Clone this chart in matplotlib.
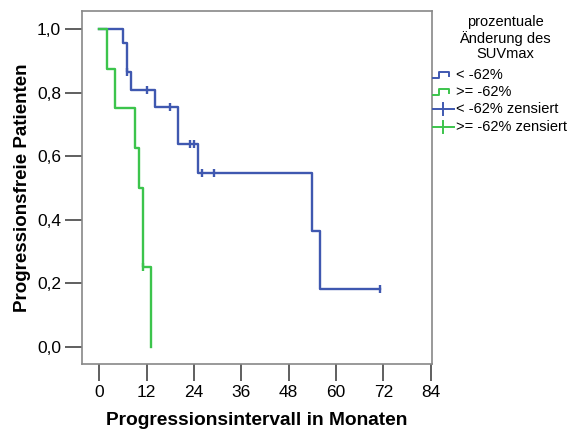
import matplotlib
matplotlib.use("Agg")
import matplotlib.pyplot as plt
from matplotlib.lines import Line2D

plt.rcParams['font.family'] = ['Liberation Sans', 'DejaVu Sans']

# Data (Kaplan-Meier estimates)
blue_times = [0, 6, 7, 8, 14, 20, 25, 54, 56]
blue_surv = [1.0, 0.955, 0.864, 0.808, 0.755, 0.639, 0.547, 0.364, 0.182]
blue_end = 71
blue_cens_t = [7, 12, 18, 23, 24, 26, 29, 71]
blue_cens_s = [0.864, 0.808, 0.755, 0.639, 0.639, 0.547, 0.547, 0.182]

green_times = [0, 2, 4, 9, 10, 11, 13]
green_surv = [1.0, 0.875, 0.75, 0.625, 0.5, 0.25, 0.0]
green_end = 13
green_cens_t = [11]
green_cens_s = [0.25]

xticks = [0, 12, 24, 36, 48, 60, 72, 84]
yticks = [0.0, 0.2, 0.4, 0.6, 0.8, 1.0]
ytick_labels = ["0,0", "0,2", "0,4", "0,6", "0,8", "1,0"]

legend_title = "prozentuale\nÄnderung des\nSUVmax"
legend_labels = ["< -62%", ">= -62%", "< -62% zensiert", ">= -62% zensiert"]

BLUE = "#3f58b0"
GREEN = "#3cc44c"
W, H = 577, 436

fig = plt.figure(figsize=(W / 100, H / 100), dpi=100)
ax = fig.add_axes([82 / W, 1 - 364 / H, (432 - 82) / W, (364 - 11) / H])

def km(times, surv, end):
    xs = list(times)
    ys = list(surv)
    if end > xs[-1]:
        xs.append(end)
        ys.append(ys[-1])
    return xs, ys

bx, by = km(blue_times, blue_surv, blue_end)
gx, gy = km(green_times, green_surv, green_end)
ax.step(bx, by, where='post', color=BLUE, lw=1.7, zorder=3)
ax.plot(blue_cens_t, blue_cens_s, linestyle='none', marker='|', ms=6, mew=1.7, color=BLUE, zorder=3)
ax.step(gx, gy, where='post', color=GREEN, lw=1.7, zorder=4)
ax.plot(green_cens_t, green_cens_s, linestyle='none', marker='|', ms=6, mew=1.7, color=GREEN, zorder=4)

ax.set_xlim(-4.39, 84.3)
ax.set_ylim(-0.055, 1.057)
ax.set_xticks(xticks)
ax.set_yticks(yticks)
ax.set_yticklabels(ytick_labels)
ax.tick_params(axis='both', direction='out', length=12, width=1.2, color='#444444',
               labelsize=12.5, pad=3)
for s in ax.spines.values():
    s.set_color('#888888')
    s.set_linewidth(1.2)

ax.set_xlabel("Progressionsintervall in Monaten", fontsize=13.8, fontweight='bold', labelpad=9)
ax.set_ylabel("Progressionsfreie Patienten", fontsize=13.5, fontweight='bold', labelpad=4)

# Legend drawn manually outside the plot
def fx(x):
    return x / W

def fy(y):
    return 1 - y / H

fig.text(fx(505), fy(38), legend_title, ha='center', va='center', fontsize=10.5,
         linespacing=1.15)

entry_y = [75, 92, 109, 127]
colors = [BLUE, GREEN, BLUE, GREEN]
for i, (lab, yy, c) in enumerate(zip(legend_labels, entry_y, colors)):
    if i < 2:
        xs = [433, 439, 439, 449, 449]
        ys = [yy + 3, yy + 3, yy - 3, yy - 3, yy + 1]
        fig.add_artist(Line2D([fx(v) for v in xs], [fy(v) for v in ys], color=c, lw=1.4,
                              transform=fig.transFigure))
    else:
        fig.add_artist(Line2D([fx(433), fx(454)], [fy(yy), fy(yy)], color=c, lw=1.4,
                              transform=fig.transFigure))
        fig.add_artist(Line2D([fx(443), fx(443)], [fy(yy - 6), fy(yy + 6)], color=c, lw=1.4,
                              transform=fig.transFigure))
    fig.text(fx(456), fy(yy), lab, ha='left', va='center', fontsize=10.5)

fig.savefig("out.png", dpi=100)
